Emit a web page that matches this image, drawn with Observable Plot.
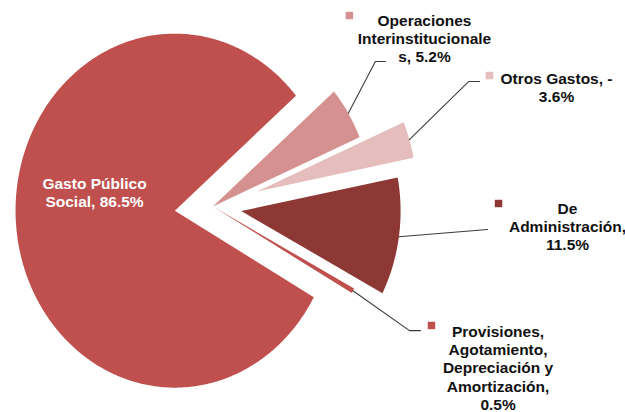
<!DOCTYPE html>
<html>
<head>
<meta charset="utf-8">
<script src="https://cdn.jsdelivr.net/npm/d3@7"></script>
<script src="https://cdn.jsdelivr.net/npm/@observablehq/plot@0.6"></script>
<style>
  body { margin: 0; background: #ffffff; }
  #chart svg { display: block; background: #ffffff; }
</style>
</head>
<body>
<div id="chart"></div>
<script>
// ---------- data ----------
const categories = [
  "Operaciones Interinstitucionales",
  "Otros Gastos",
  "De Administración",
  "Provisiones, Agotamiento, Depreciación y Amortización",
  "Gasto Público Social"
];
const values = [5.2, -3.6, 11.5, 0.5, 86.5];
const labelLines = [
  ["Operaciones", "Interinstitucionale", "s, 5.2%"],
  ["Otros Gastos, -", "3.6%"],
  ["De", "Administración,", "11.5%"],
  ["Provisiones,", "Agotamiento,", "Depreciación y", "Amortización,", "0.5%"],
  ["Gasto Público", "Social, 86.5%"]
];

// ---------- styles ----------
const colors = ["#d4918f", "#e5bdbc", "#8d3835", "#c0504d", "#c0504d"];
const textColors = ["#111111", "#111111", "#111111", "#111111", "#ffffff"];

// ---------- layout (pie units: radius = 1, centre = 0,0) ----------
const startDeg = 49.5;
const explode = [0, 0.29, 0.18, 0, 0.24];
const labelPos = [[1.328, 0.949], [2.157, 0.672], [2.226, -0.110], [1.790, -0.910], [-0.743, 0.082]];
const markerPos = [[0.857, 1.079], [1.736, 0.740], [1.793, 0.017], [1.372, -0.672]];
const leaderBend = [[1.020, 0.819], [1.605, 0.706], [1.724, -0.130], [1.234, -0.701]];
const leaderEnd = [[1.083, 0.819], [1.674, 0.706], [1.724, -0.130], [1.303, -0.701]];

const W = 625, H = 412;
const cx = 212.4, cy = 206, rx = 159.3, ry = 177;

const rows = categories.map((c, i) => ({category: c, value: values[i], i}));
const a0 = startDeg * Math.PI / 180;
const pie = d3.pie().value(d => Math.abs(d.value)).sort(null).startAngle(a0).endAngle(a0 + 2 * Math.PI);
const arcs = pie(rows);

const slices = arcs.map((a, i) => {
  const mid = (a.startAngle + a.endAngle) / 2;
  const ox = explode[i] * Math.sin(mid), oy = explode[i] * Math.cos(mid);
  const pts = [{x: ox, y: oy}];
  const n = Math.max(2, Math.ceil((a.endAngle - a.startAngle) / (Math.PI / 360)));
  for (let k = 0; k <= n; k++) {
    const t = a.startAngle + (a.endAngle - a.startAngle) * k / n;
    pts.push({x: ox + Math.sin(t), y: oy + Math.cos(t)});
  }
  pts.push({x: ox, y: oy});
  return {pts, mid, ox, oy};
});

const leaders = slices.slice(0, 4).map((s, i) => [
  {x: s.ox + Math.sin(s.mid), y: s.oy + Math.cos(s.mid)},
  {x: leaderBend[i][0], y: leaderBend[i][1]},
  {x: leaderEnd[i][0], y: leaderEnd[i][1]}
]);

const markers = markerPos.map((p, i) => ({x: p[0], y: p[1], color: colors[i]}));
const texts = labelLines.map((l, i) => ({x: labelPos[i][0], y: labelPos[i][1], text: l.join("\n"), color: textColors[i]}));

const font = "'Liberation Sans', Arial, sans-serif";

const chart = Plot.plot({
  width: W,
  height: H,
  margin: 0,
  x: {domain: [-cx / rx, (W - cx) / rx], axis: null},
  y: {domain: [-(H - cy) / ry, cy / ry], axis: null},
  style: {background: "#ffffff", fontFamily: font},
  marks: [
    ...slices.map((s, i) => Plot.line(s.pts, {x: "x", y: "y", fill: colors[i], stroke: "none"})),
    ...leaders.map(l => Plot.line(l, {x: "x", y: "y", stroke: "#3c3c3c", strokeWidth: 1.1})),
    Plot.dot(markers, {x: "x", y: "y", symbol: "square", r: 4.2, fill: "color", stroke: "none"}),
    Plot.text(texts, {
      x: "x", y: "y", text: "text", fill: "color",
      textAnchor: "middle", lineAnchor: "middle", lineHeight: 1.17,
      fontSize: 15.5, fontWeight: "bold", fontFamily: font
    })
  ]
});
document.getElementById("chart").appendChild(chart);
</script>
</body>
</html>
